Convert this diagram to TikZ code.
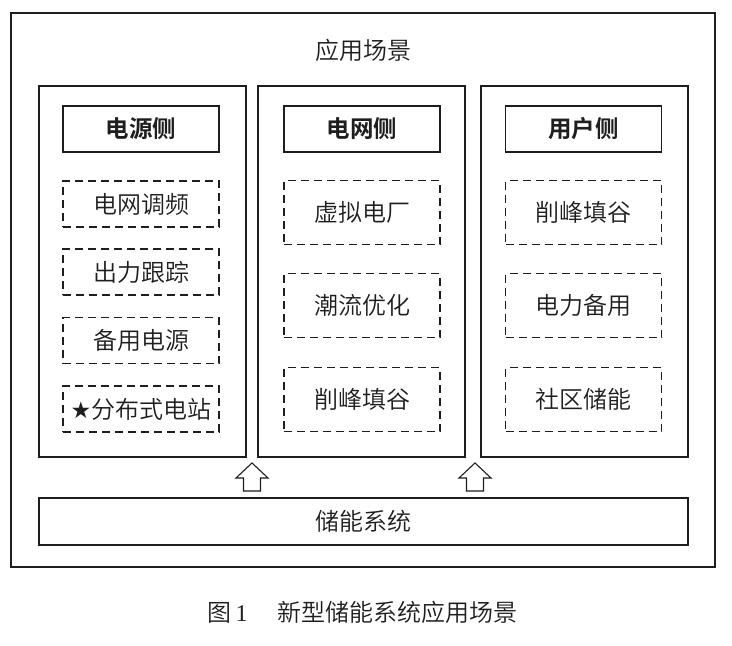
\documentclass[tikz,border=0pt]{standalone}
\usepackage{fontspec}
\setmainfont{Liberation Serif}
\newfontfamily\cjk[BoldFont={* Bold}]{Noto Sans CJK SC}
\newfontfamily\cjklight{Noto Sans CJK SC DemiLight}
\newfontfamily\symf{DejaVu Sans}
\definecolor{ink}{HTML}{1E1E1E}
\begin{document}
\begin{tikzpicture}[x=1pt,y=-1pt,
  every node/.style={inner sep=0pt,outer sep=0pt,text=ink},
  frame/.style={draw=ink,line width=1.2pt,rectangle},
  colbox/.style={frame,minimum width=207pt,minimum height=371pt},
  headbox/.style={frame,minimum width=156pt,minimum height=46pt,font=\fontsize{23.5}{23.5}\selectfont\cjk\bfseries},
  itembox/.style={draw=ink,line width=1.1pt,dash pattern=on 8pt off 5pt,rectangle,minimum width=156pt,font=\fontsize{24}{24}\selectfont\cjklight},
  shortitem/.style={itembox,minimum height=46pt},
  tallitem/.style={itembox,minimum height=64pt},
  plain/.style={font=\fontsize{24}{24}\selectfont\cjklight},
  hollow/.style={draw=ink,line width=1.1pt,fill=white,line join=miter}
]
\useasboundingbox (0,0) rectangle (732,646);
\node[frame,minimum width=704pt,minimum height=554pt] (outer) at (363,290) {};
\node[plain] (title) at (363,50) {应用场景};
% columns
\node[colbox] (colL) at (142.5,271.5) {};
\node[colbox] (colM) at (361.5,271.5) {};
\node[colbox] (colR) at (584.5,271.5) {};
% headers
\node[headbox] (hL) at (141,129) {电源侧};
\node[headbox] (hM) at (362,129) {电网侧};
\node[headbox] (hR) at (583.5,129) {用户侧};
% left items
\node[shortitem] (l1) at (141,204) {电网调频};
\node[shortitem] (l2) at (141,272) {出力跟踪};
\node[shortitem] (l3) at (141,340.5) {备用电源};
\node[shortitem] (l4) at (141,409) {{\symf\fontsize{23}{23}\selectfont ★}分布式电站};
% middle items
\node[tallitem] (m1) at (362,212.5) {虚拟电厂};
\node[tallitem] (m2) at (362,305.5) {潮流优化};
\node[tallitem] (m3) at (362,399.5) {削峰填谷};
% right items
\node[tallitem] (r1) at (583.5,212.5) {削峰填谷};
\node[tallitem] (r2) at (583.5,305.5) {电力备用};
\node[tallitem] (r3) at (583.5,399.5) {社区储能};
% storage
\node[frame,minimum width=649pt,minimum height=47pt,font=\fontsize{24}{24}\selectfont\cjklight] (store) at (363.5,521.5) {储能系统};
% hollow arrows
\coordinate (a1) at (252,491);
\coordinate (a2) at (475,491);
\foreach \c in {a1,a2}{
  \draw[hollow] ([xshift=-8.5pt]\c) -- ([xshift=-8.5pt,yshift=13pt]\c) -- ([xshift=-16pt,yshift=13pt]\c)
    -- ([yshift=28pt]\c) -- ([xshift=16pt,yshift=13pt]\c) -- ([xshift=8.5pt,yshift=13pt]\c)
    -- ([xshift=8.5pt]\c) -- cycle;
}
% caption
\node[font=\fontsize{24}{24}\selectfont] (cap) at (362.5,612) {{\cjklight 图}\,1\hspace{1.25em}{\cjklight 新型储能系统应用场景}};
\end{tikzpicture}
\end{document}
